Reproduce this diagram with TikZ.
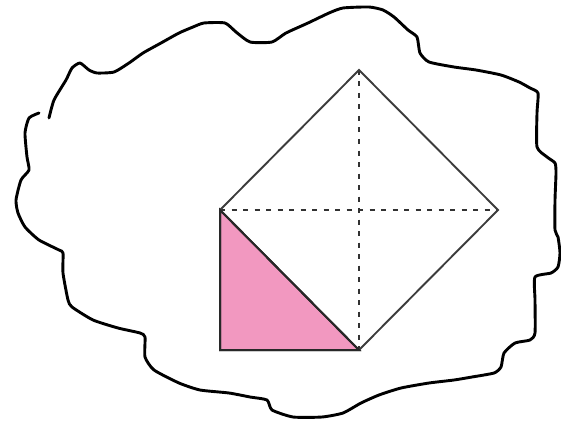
\documentclass[tikz,border=0pt]{standalone}
\begin{document}
\begin{tikzpicture}[x=1pt,y=-1pt,
  cloudline/.style={line width=2.9pt,line join=round,line cap=round,black},
  sqline/.style={line width=1.9pt,draw={rgb,255:red,60;green,60;blue,60}},
  dashline/.style={line width=2pt,dash pattern=on 5pt off 6.5pt,draw={rgb,255:red,50;green,50;blue,50}},
  pinkfill/.style={fill={rgb,255:red,242;green,152;blue,192},draw={rgb,255:red,40;green,40;blue,40},line width=2pt,line join=miter}]
\useasboundingbox (0,0) rectangle (561,422);
% cloud
\draw[cloudline] plot[smooth,tension=0.35] coordinates {
(39,113) (29,118) (25,133) (27,157) (29,170) (21,180) (16,200) (18,213) (25,227) (39,240) (59,250) (63,253) (63,273) (68,300) (72,307) (93,320) (118,328) (140,333) (145,337) (145,357) (154,370) (179,383) (200,390) (229,393) (250,397) (267,400) (272,410) (293,417) (322,417) (343,413) (361,403) (379,395) (401,388) (429,383) (454,380) (472,377) (494,373) (501,367) (504,353) (515,343) (530,340) (535,333) (535,300) (535,277) (551,273) (558,267) (560,253) (558,237) (555,230) (555,200) (556,173) (555,163) (547,157) (537,147) (537,113) (538,93) (530,88) (519,82) (501,75) (476,70) (454,67) (429,62) (420,53) (417,37) (408,30) (394,17) (383,10) (369,7) (343,8) (329,13) (308,23) (286,33) (272,42) (250,42) (236,32) (225,23) (204,23) (193,27) (179,33) (161,43) (143,53) (129,63) (114,72) (97,73) (89,70) (80,63) (72,68) (66,80) (54,100) (49,118)};
% square
\coordinate (T) at (359,70);
\coordinate (R) at (498,210);
\coordinate (B) at (359,350);
\coordinate (L) at (220,210);
\coordinate (BL) at (220,350);
\fill[pinkfill] (L) -- (BL) -- (B) -- cycle;
\draw[dashline] (L) -- (R);
\draw[dashline] (T) -- (B);
\draw[sqline,line join=miter] (L) -- (T) -- (R) -- (B);
\draw[pinkfill,fill=none] (L) -- (BL) -- (B) -- cycle;
\end{tikzpicture}
\end{document}
